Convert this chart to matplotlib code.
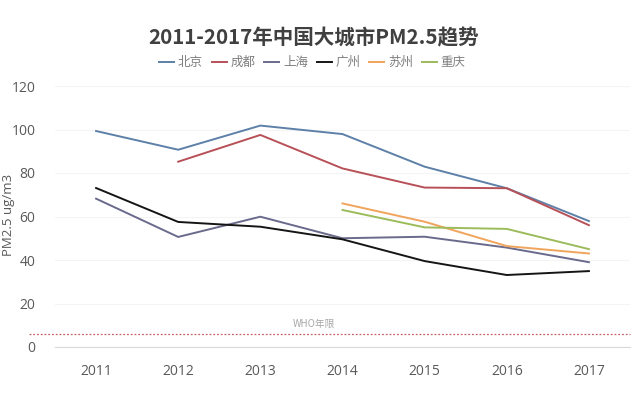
import numpy as np
import matplotlib
matplotlib.use("Agg")
import matplotlib.pyplot as plt

plt.rcParams['font.family'] = ['Open Sans', 'Noto Sans CJK SC', 'DejaVu Sans']

# 数据
years = ['2011', '2012', '2013', '2014', '2015', '2016', '2017']
beijing = [99.3, 90.7, 101.8, 97.9, 82.9, 73.0, 57.9]
chengdu = [np.nan, 85.2, 97.5, 82.1, 73.3, 73.0, 56.0]
shanghai = [68.2, 50.6, 59.9, 50.0, 50.7, 45.7, 39.0]
guangzhou = [73.1, 57.5, 55.3, 49.5, 39.5, 33.1, 34.9]
suzhou = [np.nan, np.nan, np.nan, 66.0, 57.6, 46.4, 43.0]
chongqing = [np.nan, np.nan, np.nan, 63.0, 55.0, 54.3, 45.0]
who_level = 6

cities = ['北京', '成都', '上海', '广州', '苏州', '重庆']
series = [beijing, chengdu, shanghai, guangzhou, suzhou, chongqing]
colors = ['#5d80a8', '#b85058', '#6a6a8c', '#151515', '#f0a45c', '#9cbb5a']

fig = plt.figure(figsize=(6.4, 3.95), dpi=100)
ax = fig.add_axes([55 / 640, 48 / 395, 575 / 640, 261 / 395])

x = np.arange(len(years))
for name, vals, c in zip(cities, series, colors):
    ax.plot(x, vals, color=c, lw=1.4, label=name)

ax.set_xlim(-0.5, 6.5)
ax.set_ylim(0, 120)
ax.set_yticks(range(0, 121, 20))
ax.set_xticks(x)
ax.set_xticklabels(years)
ax.tick_params(length=0, colors='#595959', labelsize=10)
ax.tick_params(axis='x', pad=12)
ax.tick_params(axis='y', pad=14)
for s in ['top', 'right', 'left']:
    ax.spines[s].set_visible(False)
ax.spines['bottom'].set_color('#d9d9d9')
ax.grid(axis='y', color='#f4f4f4', lw=0.8)
ax.set_axisbelow(True)

fig.text(9 / 640, 0.455, 'PM2.5 ug/m3', rotation=90, ha='center', va='center',
         color='#595959', fontsize=9.5)

# WHO 标准线，延伸到坐标轴外
ax.plot([-0.82, 6.5], [who_level, who_level], color='#c8606a', lw=0.9,
        ls=(0, (1.5, 1.5)), clip_on=False)
ax.text(2.65, who_level + 2.5, 'WHO年限', color='#a6a6a6', fontsize=7,
        ha='center', va='bottom', family=['Noto Sans CJK SC'])

fig.text(0.49, 0.905, '2011-2017年中国大城市PM2.5趋势', ha='center', va='center',
         fontsize=14.8, fontweight='bold', color='#404040',
         family=['Noto Sans CJK SC'])

leg = fig.legend(loc='center', bbox_to_anchor=(0.488, 0.842), ncol=6,
                 frameon=False, handlelength=1.2, handletextpad=0.3,
                 columnspacing=0.7, prop={'family': ['Noto Sans CJK SC'], 'size': 9})
for t in leg.get_texts():
    t.set_color('#7f7f7f')

fig.savefig('out.png', dpi=100, facecolor='white')
